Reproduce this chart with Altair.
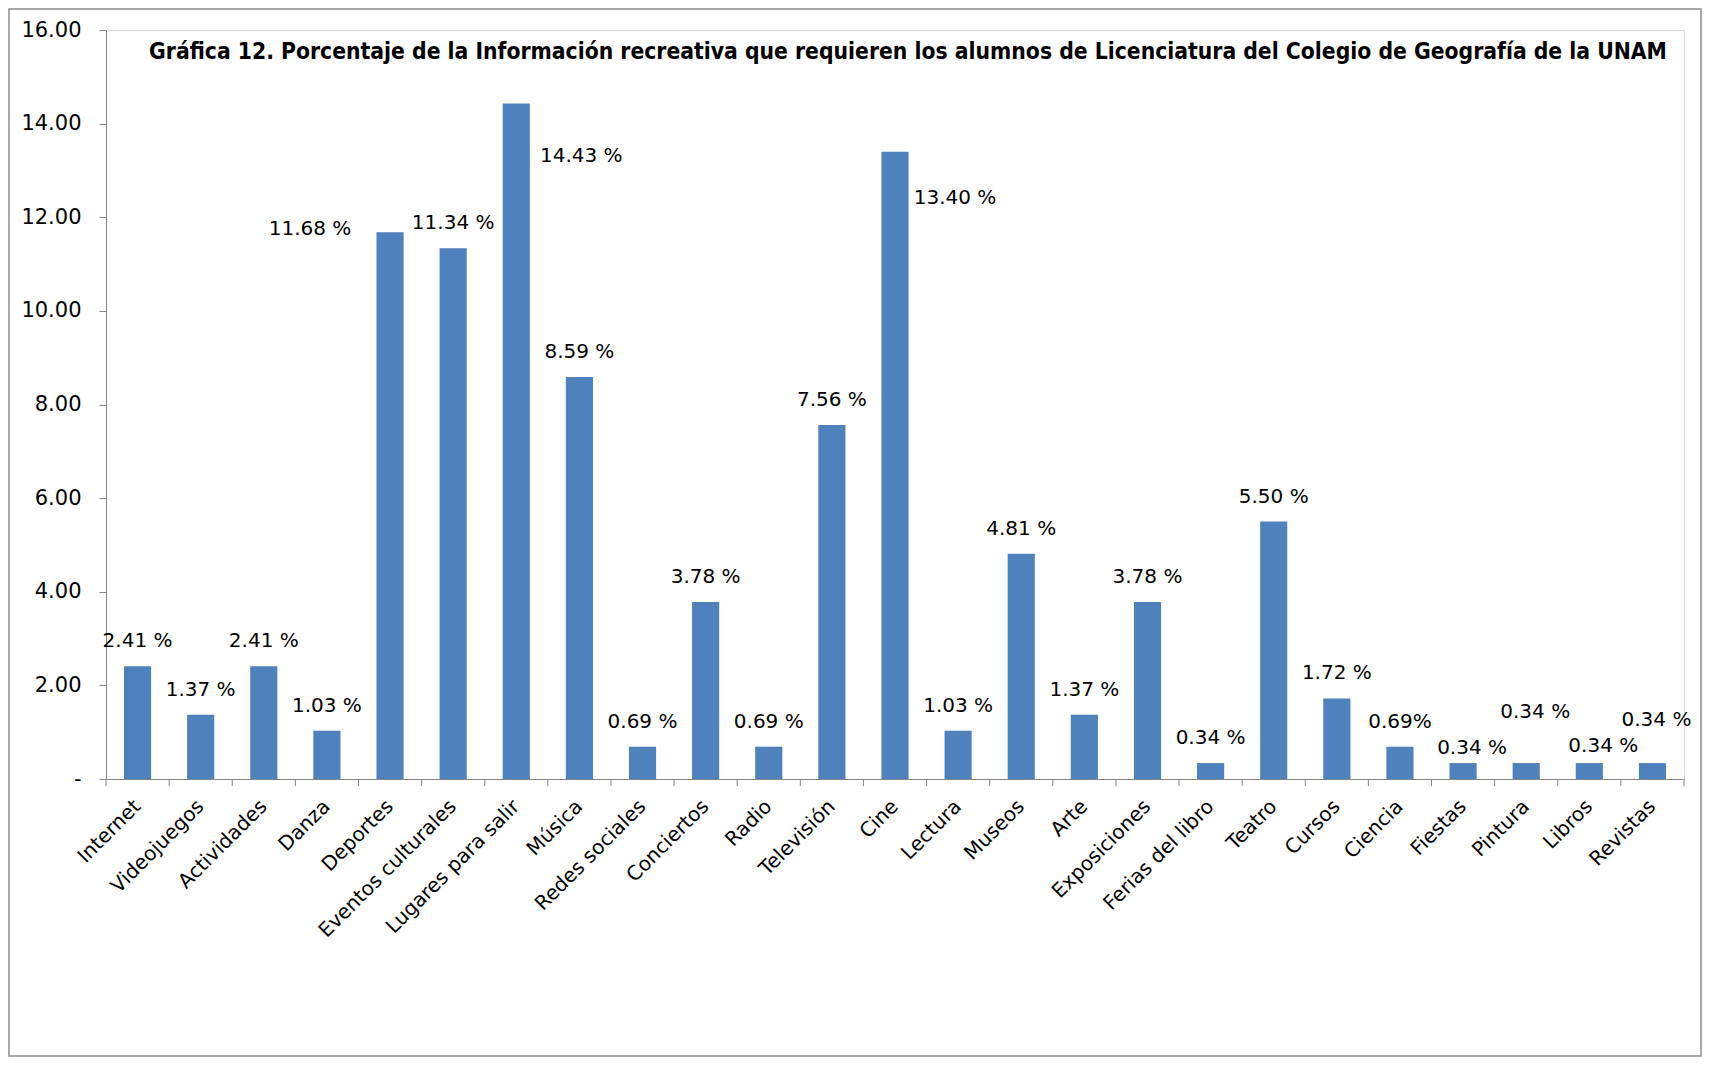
import altair as alt
import pandas as pd

TITLE = "Gráfica 12. Porcentaje de la Información  recreativa que requieren los alumnos de Licenciatura del Colegio de Geografía de la UNAM"

categories = ["Internet", "Videojuegos", "Actividades", "Danza", "Deportes",
              "Eventos culturales", "Lugares para salir", "Música", "Redes sociales",
              "Conciertos", "Radio", "Televisión", "Cine", "Lectura", "Museos", "Arte",
              "Exposiciones", "Ferias del libro", "Teatro", "Cursos", "Ciencia",
              "Fiestas", "Pintura", "Libros", "Revistas"]
values = [2.41, 1.37, 2.41, 1.03, 11.68, 11.34, 14.43, 8.59, 0.69, 3.78, 0.69,
          7.56, 13.40, 1.03, 4.81, 1.37, 3.78, 0.34, 5.50, 1.72, 0.69, 0.34,
          0.34, 0.34, 0.34]
labels = ["2.41 %", "1.37 %", "2.41 %", "1.03 %", "11.68 %", "11.34 %", "14.43 %",
          "8.59 %", "0.69 %", "3.78 %", "0.69 %", "7.56 %", "13.40 %", "1.03 %",
          "4.81 %", "1.37 %", "3.78 %", "0.34 %", "5.50 %", "1.72 %", "0.69%",
          "0.34 %", "0.34 %", "0.34 %", "0.34 %"]
y_ticks = [0, 2, 4, 6, 8, 10, 12, 14, 16]

df = pd.DataFrame({"cat": categories, "value": values, "label": labels})

W, H = 1578, 749
FONT_C = "DejaVu Sans Condensed, Liberation Sans Narrow, DejaVu Sans"
FONT = "DejaVu Sans"
BLUE = "#4F81BD"
GRAY = "#868686"

# label placement tweaks (pixels), like the manually moved Excel labels
DEFAULT_DY = -25
label_moves = {
    "Deportes": (-80, -3),
    "Lugares para salir": (65, 53),
    "Cine": (60, 46),
    "Fiestas": (9, -15),
    "Pintura": (9, -51),
    "Libros": (14, -17),
    "Revistas": (4, -43),
}

x_enc = alt.X("cat:N", sort=categories,
              scale=alt.Scale(paddingInner=0, paddingOuter=0),
              axis=alt.Axis(title=None, labelAngle=-45, labelAlign="right",
                            labelBaseline="middle", labelFont=FONT, labelFontSize=20,
                            labelColor="#000000", labelPadding=24, ticks=False,
                            domainColor=GRAY, labelLimit=400))
y_enc = alt.Y("value:Q", scale=alt.Scale(domain=[0, 16], nice=False),
              axis=alt.Axis(title=None, values=y_ticks, grid=False,
                            labelExpr="datum.value == 0 ? '-\u2007\u2007' : format(datum.value, '.2f')",
                            labelFont=FONT, labelFontSize=21, labelColor="#000000",
                            labelPadding=18, tickSize=7, tickColor=GRAY, domainColor=GRAY))

base = alt.Chart(df)

bars = base.mark_bar(color=BLUE, width=alt.RelativeBandSize(0.43)).encode(x=x_enc, y=y_enc)

ticks = base.mark_rule(color=GRAY).encode(
    x=alt.X("cat:N", sort=categories, bandPosition=0),
    y=alt.value(H), y2=alt.value(H + 7))
last_tick = base.transform_filter(
    alt.datum.cat == categories[-1]).mark_rule(color=GRAY).encode(
    x=alt.X("cat:N", sort=categories, bandPosition=1),
    y=alt.value(H), y2=alt.value(H + 7))

text_kw = dict(font=FONT, fontSize=20, color="#000000", baseline="middle", align="center")
default_labels = base.transform_filter(
    ~alt.FieldOneOfPredicate(field="cat", oneOf=list(label_moves.keys()))
).mark_text(dy=DEFAULT_DY, **text_kw).encode(
    x=alt.X("cat:N", sort=categories), y="value:Q", text="label:N")

moved = []
for c, (dx, dy) in label_moves.items():
    moved.append(base.transform_filter(alt.datum.cat == c).mark_text(
        dx=dx, dy=dy, **text_kw).encode(
        x=alt.X("cat:N", sort=categories), y="value:Q", text="label:N"))

title = alt.Chart(alt.Data(values=[{}])).mark_text(
    font=FONT_C, fontSize=22.7, fontWeight="bold", color="#000000",
    align="center", baseline="middle").encode(
    x=alt.value(802), y=alt.value(22), text=alt.value(TITLE))

frame = alt.Chart(alt.Data(values=[{}])).mark_rect(
    fill=None, stroke="#8c8c8c", strokeWidth=1.5).encode(
    x=alt.value(-97), x2=alt.value(1595), y=alt.value(-21), y2=alt.value(1026))

chart = alt.layer(frame, bars, ticks, last_tick, default_labels, *moved, title).properties(
    width=W, height=H,
    autosize=alt.AutoSizeParams(type="none"),
    padding={"left": 98, "top": 22, "right": 18, "bottom": 278},
).configure_view(stroke=None).configure(background="white")

chart.save("out.html", embed_options={"renderer": "svg", "actions": False})
